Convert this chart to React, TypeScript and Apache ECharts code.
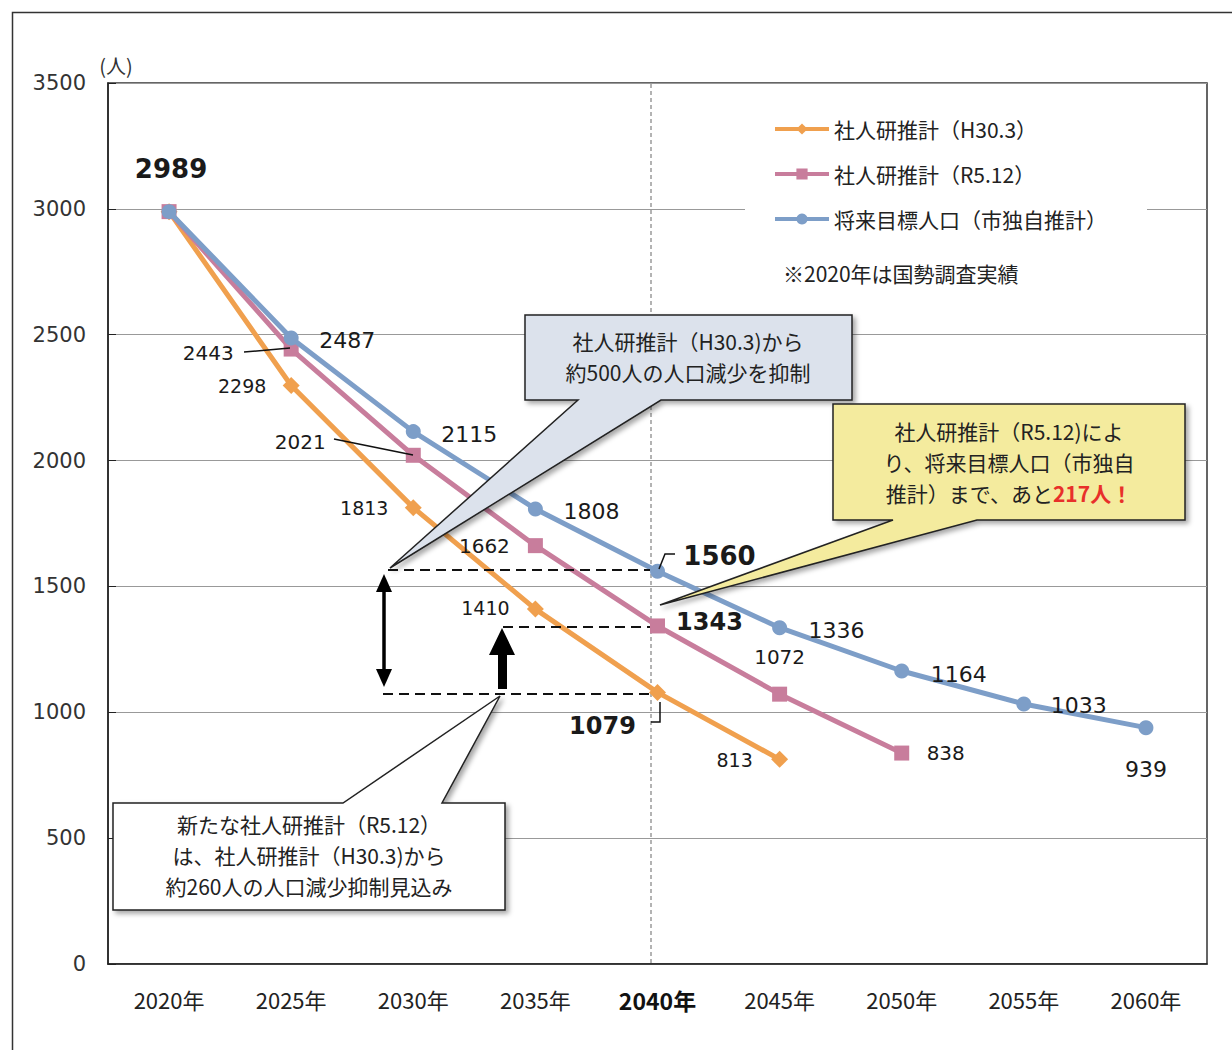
import React, { useEffect, useRef } from "react";
import * as echarts from "echarts";

const categories = ["2020年", "2025年", "2030年", "2035年", "2040年", "2045年", "2050年", "2055年", "2060年"];
const h30Values = [2989, 2298, 1813, 1410, 1079, 813];
const r5Values = [2989, 2443, 2021, 1662, 1343, 1072, 838];
const targetValues = [2989, 2487, 2115, 1808, 1560, 1336, 1164, 1033, 939];
const seriesNames = ["社人研推計（H30.3）", "社人研推計（R5.12）", "将来目標人口（市独自推計）"];
const yMin = 0;
const yMax = 3500;
const yStep = 500;
const highlightCategory = "2040年";

const callout1Lines = ["社人研推計（H30.3)から", "約500人の人口減少を抑制"];
const callout2Lines = ["社人研推計（R5.12)によ", "り、将来目標人口（市独自", "推計）まで、あと{r|217人！}"];
const callout3Lines = ["新たな社人研推計（R5.12）", "は、社人研推計（H30.3)から", "約260人の人口減少抑制見込み"];

// label placement relative to each point (px); null = no label
type Lab = { o: number[]; b?: boolean; s?: number } | null;
const h30Labels: Lab[] = [null, { o: [-49, 0] }, { o: [-49, 0] }, { o: [-50, -1] }, { o: [-55, 34], b: true, s: 24 }, { o: [-45, 1] }];
const r5Labels: Lab[] = [null, { o: [-83, 4] }, { o: [-113, -13] }, { o: [-51, 0] }, { o: [52, -4], b: true, s: 24 }, { o: [0, -37] }, { o: [44, 0] }];
const targetLabels: Lab[] = [
  { o: [2, -43], b: true, s: 26 }, { o: [56, 3] }, { o: [56, 3] }, { o: [56, 3] },
  { o: [62, -15], b: true, s: 26 }, { o: [57, 3] }, { o: [57, 3] }, { o: [55, 2] }, { o: [0, 42] },
];

const NUM_FONT = "DejaVu Sans, Noto Sans CJK JP, sans-serif";
const JP_FONT = "Noto Sans CJK JP, sans-serif";

function items(values: number[], labels: Lab[], size: number) {
  return values.map((v, i) => {
    const l = labels[i];
    if (!l) return { value: v, label: { show: false } };
    return {
      value: v,
      label: {
        show: true,
        position: "inside",
        offset: l.o,
        fontSize: l.b ? l.s : size,
        fontWeight: l.b ? "bold" : "normal",
        fontFamily: NUM_FONT,
        color: "#1a1a1a",
      },
    };
  });
}

const shadow = { shadowBlur: 5, shadowOffsetX: 3, shadowOffsetY: 3, shadowColor: "rgba(0,0,0,0.35)" };

function lineTexts(lines: string[], cx: number, cy: number, lh: number, size: number, rich?: any) {
  const top = cy - ((lines.length - 1) * lh) / 2;
  return lines.map((t, i) => ({
    type: "text",
    z: 101,
    x: cx,
    y: top + i * lh,
    style: {
      text: t,
      fontSize: size,
      fontFamily: JP_FONT,
      fill: "#222",
      align: "center",
      verticalAlign: "middle",
      ...(rich ? { rich } : {}),
    },
  }));
}

export default function App() {
  const ref = useRef<HTMLDivElement>(null);
  useEffect(() => {
    if (!ref.current) return;
    const chart = echarts.init(ref.current, undefined, { renderer: "svg" });
    const dashed = { stroke: "#111", lineWidth: 2, lineDash: [10, 6] };
    const leader = { stroke: "#111", lineWidth: 1.5, fill: "none" };
    const option: any = {
      animation: false,
      backgroundColor: "#fff",
      grid: { left: 108, top: 83, right: 25, bottom: 86, show: true, borderColor: "#333", borderWidth: 1.5 },
      legend: {
        orient: "vertical",
        left: 745,
        top: 103,
        padding: [14, 40, 12, 28],
        backgroundColor: "#fff",
        itemWidth: 54,
        itemHeight: 14,
        itemGap: 21,
        lineStyle: { width: 4 },
        textStyle: { fontSize: 21, fontFamily: JP_FONT, color: "#222", lineHeight: 24 },
        data: seriesNames,
      },
      xAxis: {
        type: "category",
        data: categories,
        boundaryGap: true,
        axisLine: { lineStyle: { color: "#222", width: 1.5 } },
        axisTick: { inside: true, length: 8, lineStyle: { color: "#222" } },
        axisLabel: {
          interval: 0,
          margin: 24,
          fontSize: 22,
          fontFamily: JP_FONT,
          color: "#222",
          formatter: (v: string) => (v === highlightCategory ? `{b|${v}}` : v),
          rich: { b: { fontWeight: "bold", fontSize: 23, fontFamily: JP_FONT, color: "#111" } },
        },
        splitLine: { show: false },
      },
      yAxis: {
        type: "value",
        min: yMin,
        max: yMax,
        interval: yStep,
        axisLine: { show: true, lineStyle: { color: "#222", width: 1.5 } },
        axisTick: { show: true, inside: true, length: 8, lineStyle: { color: "#222" } },
        axisLabel: { margin: 22, fontSize: 21, fontFamily: NUM_FONT, color: "#333", formatter: (v: number) => String(v) },
        splitLine: { lineStyle: { color: "#999", width: 1 } },
      },
      series: [
        {
          name: seriesNames[0],
          type: "line",
          data: items(h30Values, h30Labels, 19),
          symbol: "diamond",
          symbolSize: 17,
          lineStyle: { color: "#F0A04E", width: 5 },
          itemStyle: { color: "#F0A04E" },
          z: 2,
        },
        {
          name: seriesNames[1],
          type: "line",
          data: items(r5Values, r5Labels, 20),
          symbol: "rect",
          symbolSize: 15,
          lineStyle: { color: "#C87D9C", width: 5 },
          itemStyle: { color: "#C87D9C" },
          z: 3,
        },
        {
          name: seriesNames[2],
          type: "line",
          data: items(targetValues, targetLabels, 22),
          symbol: "circle",
          symbolSize: 15,
          lineStyle: { color: "#7D9EC8", width: 5 },
          itemStyle: { color: "#7D9EC8" },
          z: 4,
        },
      ],
      graphic: [
        { type: "rect", z: 0, silent: true, shape: { x: 12.5, y: 12.5, width: 1260, height: 1080 }, style: { fill: "none", stroke: "#333", lineWidth: 1.5 } },
        { type: "text", z: 50, x: 116, y: 65, style: { text: "(人)", fontSize: 20, fontFamily: JP_FONT, fill: "#333", align: "center", verticalAlign: "middle" } },
        { type: "text", z: 50, x: 783, y: 273, style: { text: "※2020年は国勢調査実績", fontSize: 21, fontFamily: JP_FONT, fill: "#222", align: "left", verticalAlign: "middle" } },
        { type: "line", z: 1, shape: { x1: 651, y1: 84, x2: 651, y2: 963 }, style: { stroke: "#9a9a9a", lineWidth: 1.5, lineDash: [4, 3] } },
        // dashed reference lines
        { type: "line", z: 60, shape: { x1: 388, y1: 570, x2: 650, y2: 570 }, style: dashed },
        { type: "line", z: 60, shape: { x1: 503, y1: 627, x2: 650, y2: 627 }, style: dashed },
        { type: "line", z: 60, shape: { x1: 383, y1: 694, x2: 650, y2: 694 }, style: dashed },
        // double arrow
        { type: "line", z: 60, shape: { x1: 384, y1: 586, x2: 384, y2: 674 }, style: { stroke: "#000", lineWidth: 3.5 } },
        { type: "polygon", z: 60, shape: { points: [[384, 574], [376, 592], [392, 592]] }, style: { fill: "#000" } },
        { type: "polygon", z: 60, shape: { points: [[384, 687], [376, 669], [392, 669]] }, style: { fill: "#000" } },
        // up arrow
        { type: "polygon", z: 60, shape: { points: [[502, 628], [515, 655], [507, 655], [507, 689], [498, 689], [498, 655], [489, 655]] }, style: { fill: "#000" } },
        // leader lines
        { type: "line", z: 60, shape: { x1: 244, y1: 352, x2: 290, y2: 348 }, style: leader },
        { type: "line", z: 60, shape: { x1: 334, y1: 439, x2: 413, y2: 455 }, style: leader },
        { type: "polyline", z: 60, shape: { points: [[659, 569], [665, 554], [675, 554]] }, style: leader },
        { type: "polyline", z: 60, shape: { points: [[660, 702], [660, 722], [651, 722]] }, style: leader },
        // callout 1
        {
          type: "polygon", z: 100,
          shape: { points: [[525, 315], [852, 315], [852, 400], [661, 400], [390, 568], [578, 400], [525, 400]] },
          style: { fill: "#DCE2EC", stroke: "#222", lineWidth: 1.5, ...shadow },
        },
        ...lineTexts(callout1Lines, 688, 356, 31, 21),
        // callout 2
        {
          type: "polygon", z: 100,
          shape: { points: [[833, 404], [1185, 404], [1185, 520], [977, 520], [660, 605], [893, 520], [833, 520]] },
          style: { fill: "#F4EB9E", stroke: "#222", lineWidth: 1.5, ...shadow },
        },
        ...lineTexts(callout2Lines, 1009, 462, 31, 21, { r: { fill: "#E8302A", fontWeight: "bold", fontSize: 21, fontFamily: JP_FONT } }),
        // callout 3
        {
          type: "polygon", z: 100,
          shape: { points: [[113, 803], [343, 803], [500, 696], [442, 803], [505, 803], [505, 910], [113, 910]] },
          style: { fill: "#fff", stroke: "#222", lineWidth: 1.5, ...shadow },
        },
        ...lineTexts(callout3Lines, 309, 855, 31, 21),
      ],
    };
    chart.setOption(option);
    return () => chart.dispose();
  }, []);
  return <div ref={ref} style={{ position: "absolute", left: 0, top: 0, width: 1232, height: 1050 }} />;
}
